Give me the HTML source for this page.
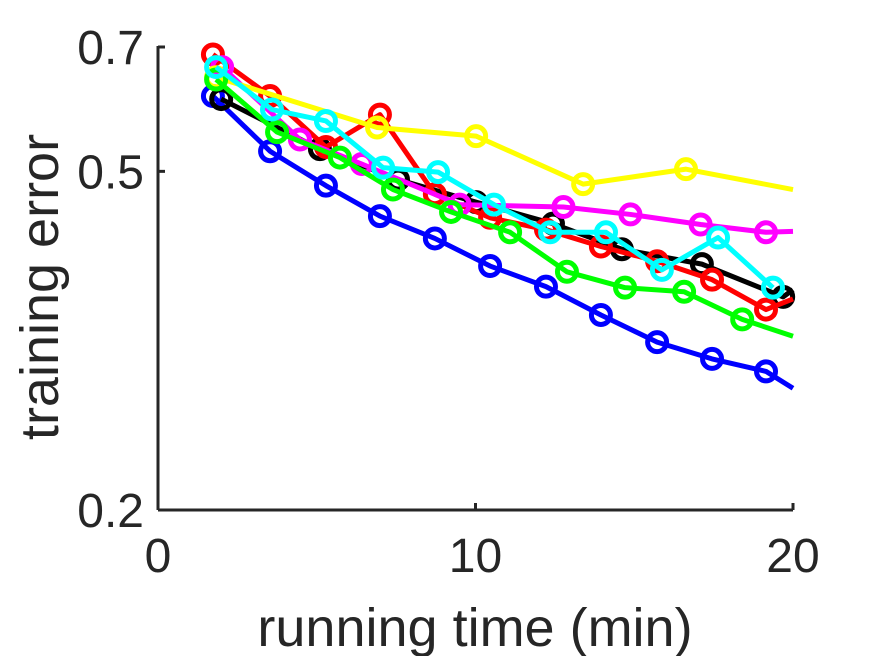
<!DOCTYPE html>
<html><head><meta charset="utf-8"><style>
html,body{margin:0;padding:0;background:#fff;}
svg text{font-family:"Liberation Sans",Arial,sans-serif;fill:#262626;}
</style></head><body>
<svg id="chart" width="875" height="656" xmlns="http://www.w3.org/2000/svg">
<g id="series"></g>
<g id="axes"></g>
</svg>
<script>
const xTicks=[0,10,20];
const yTicks=[0.2,0.5,0.7];
const blueX=[1.73,3.53,5.29,6.99,8.72,10.46,12.22,13.95,15.72,17.45,19.15,20];
const blueY=[0.613,0.528,0.481,0.443,0.417,0.387,0.366,0.339,0.315,0.301,0.291,0.278];
const blackX=[1.99,5.1,7.56,10.02,12.44,14.61,17.13,19.69,20];
const blackY=[0.608,0.531,0.489,0.46,0.434,0.405,0.389,0.356,0.363];
const redX=[1.73,3.53,5.29,6.99,8.72,10.46,12.22,13.95,15.72,17.45,19.15,20];
const redY=[0.686,0.613,0.534,0.583,0.47,0.441,0.427,0.408,0.392,0.373,0.344,0.354];
const magentaX=[2.02,4.47,6.42,9.5,12.77,14.88,17.09,19.15,20];
const magentaY=[0.663,0.545,0.51,0.457,0.454,0.445,0.433,0.424,0.425];
const yellowX=[1.83,6.9,10.02,13.39,16.63,20];
const yellowY=[0.645,0.563,0.55,0.483,0.503,0.476];
const greenX=[1.83,3.75,5.73,7.4,9.23,11.09,12.88,14.71,16.57,18.4,20];
const greenY=[0.641,0.556,0.519,0.476,0.448,0.424,0.381,0.365,0.361,0.335,0.32];
const cyanX=[1.83,3.59,5.29,7.09,8.82,10.58,12.35,14.11,15.87,17.64,19.37];
const cyanY=[0.663,0.591,0.573,0.505,0.499,0.457,0.424,0.424,0.383,0.418,0.365];

const X0=158,X1=793,Y0=510,Y1=47;
const sx=v=>X0+(v-0)/(20-0)*(X1-X0);
const sy=v=>Y0-(Math.log(v)-Math.log(0.2))/(Math.log(0.7)-Math.log(0.2))*(Y0-Y1);
const NS="http://www.w3.org/2000/svg";
const sg=document.getElementById('series');
const ag=document.getElementById('axes');

function drawSeries(name,color,xs,ys){
  const g=document.createElementNS(NS,'g');
  
  
  const pl=document.createElementNS(NS,'polyline');
  pl.setAttribute('points',xs.map((x,i)=>sx(x)+','+sy(ys[i])).join(' '));
  pl.setAttribute('fill','none');pl.setAttribute('stroke',color);pl.setAttribute('stroke-width','5');
  pl.setAttribute('stroke-linejoin','round');
  
  
  g.appendChild(pl);
  xs.forEach((x,i)=>{
    if(x>=20) return;
    const c=document.createElementNS(NS,'circle');
    c.setAttribute('cx',sx(x));c.setAttribute('cy',sy(ys[i]));c.setAttribute('r','9.5');
    c.setAttribute('fill','none');c.setAttribute('stroke',color);c.setAttribute('stroke-width','5');
    
    
    g.appendChild(c);
  });
  sg.appendChild(g);
}
drawSeries('blue','#0000ff',blueX,blueY);
drawSeries('black','#000000',blackX,blackY);
drawSeries('red','#ff0000',redX,redY);
drawSeries('magenta','#ff00ff',magentaX,magentaY);
drawSeries('yellow','#ffff00',yellowX,yellowY);
drawSeries('green','#00ff00',greenX,greenY);
drawSeries('cyan','#00ffff',cyanX,cyanY);

function line(x1,y1,x2,y2,name){
  const l=document.createElementNS(NS,'line');
  l.setAttribute('x1',x1);l.setAttribute('y1',y1);l.setAttribute('x2',x2);l.setAttribute('y2',y2);
  l.setAttribute('stroke','#262626');l.setAttribute('stroke-width','3');
  
  
  ag.appendChild(l);
}
function text(x,y,s,anchor,size,name,rot){
  const t=document.createElementNS(NS,'text');
  t.setAttribute('x',x);t.setAttribute('y',y);t.setAttribute('text-anchor',anchor);
  t.setAttribute('font-size',size);
  if(rot) t.setAttribute('transform',rot);
  t.textContent=s;
  
  
  ag.appendChild(t);
}
line(X0,Y0,X1,Y0,'x-axis-line');
line(X0,Y0,X0,Y1-1,'y-axis-line');
xTicks.forEach(v=>{line(sx(v),Y0,sx(v),Y0-7,'x-tick');text(sx(v),Y0+62,String(v),'middle',48,'x-tick-label');});
yTicks.forEach(v=>{line(X0,sy(v),X0+7,sy(v),'y-tick');text(X0-14,sy(v)+17,String(v),'end',48,'y-tick-label');});
text(475,646,'running time (min)','middle',54,'x-axis-title');
text(0,0,'training error','middle',54,'y-axis-title','translate(58,287) rotate(-90)');
</script>
</body></html>
